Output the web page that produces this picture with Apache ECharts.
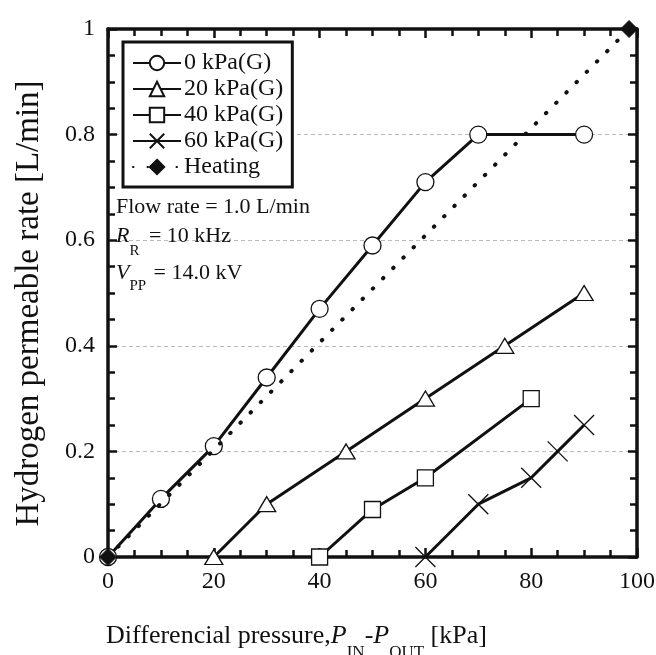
<!DOCTYPE html>
<html>
<head>
<meta charset="utf-8">
<script src="https://cdn.jsdelivr.net/npm/echarts@6/dist/echarts.min.js"></script>
<style>html,body{margin:0;padding:0;background:#fff}#c{width:656px;height:655px}</style>
</head>
<body>
<div id="c"></div>
<script>
// ---- data ----
const seriesNames = ['0 kPa(G)', '20 kPa(G)', '40 kPa(G)', '60 kPa(G)', 'Heating'];
const p0x = [0, 10, 20, 30, 40, 50, 60, 70, 90];
const p0y = [0, 0.11, 0.21, 0.34, 0.47, 0.59, 0.71, 0.80, 0.80];
const p20x = [20, 30, 45, 60, 75, 90];
const p20y = [0, 0.10, 0.20, 0.30, 0.40, 0.50];
const p40x = [40, 50, 60, 80];
const p40y = [0, 0.09, 0.15, 0.30];
const p60x = [60, 70, 80, 85, 90];
const p60y = [0, 0.10, 0.15, 0.20, 0.25];
const heatX = [0, 98.5];
const heatY = [0, 1];
const xTicks = [0, 20, 40, 60, 80, 100];
const yTicks = [0, 0.2, 0.4, 0.6, 0.8, 1];

const FONT = "'Liberation Serif','Times New Roman',serif";
const pair = (xs, ys) => xs.map((x, i) => [x, ys[i]]);

const crossPath = 'path://M0,0L10,10M10,0L0,10';
const lineBase = { color: '#111', width: 3 };

function axisCommon(show) {
  return {
    axisLine: { show: true, onZero: false, lineStyle: { color: '#111', width: 3.5 } },
    axisTick: { show: true, inside: true, length: 9, lineStyle: { color: '#111', width: 2.5 } },
    minorTick: { show: true, splitNumber: 4, length: 7, lineStyle: { color: '#111', width: 2.5 } },
    axisLabel: { show: show, color: '#111', fontSize: 24, fontFamily: FONT, margin: 13 },
  };
}

const option = {
  animation: false,
  backgroundColor: '#fff',
  grid: { left: 108, right: 19, top: 29, bottom: 98, containLabel: false, outerBoundsMode: 'none' },
  legend: {
    orient: 'vertical',
    left: 123, top: 42,
    padding: [9, 9, 8, 9],
    itemGap: 2,
    itemWidth: 48, itemHeight: 18,
    borderColor: '#111', borderWidth: 3,
    backgroundColor: '#fff',
    textStyle: { color: '#111', fontSize: 24, fontFamily: FONT, padding: [0, 0, 0, -2] },
    data: seriesNames
  },
  xAxis: [
    Object.assign({
      type: 'value', min: 0, max: 100, interval: 20, position: 'bottom',
      name: '{a|Differencial pressure,}{i|P}{s|IN}{a|-}{i|P}{s|OUT}{a| [kPa]}',
      nameLocation: 'middle', nameGap: 62,
      nameTextStyle: {
        padding: [0, 152, 0, 0],
        rich: {
          a: { fontSize: 26, fontFamily: FONT, color: '#111', lineHeight: 34, verticalAlign: 'middle' },
          i: { fontSize: 26, fontFamily: FONT, fontStyle: 'italic', color: '#111', lineHeight: 34, verticalAlign: 'middle' },
          s: { fontSize: 17, fontFamily: FONT, color: '#111', lineHeight: 34, verticalAlign: 'bottom', padding: [0, 0, -8, 0] }
        }
      },
      splitLine: { show: false }
    }, axisCommon(true)),
    Object.assign({
      type: 'value', min: 0, max: 100, interval: 20, position: 'top',
      splitLine: { show: false }
    }, axisCommon(false))
  ],
  yAxis: [
    Object.assign({
      type: 'value', min: 0, max: 1, interval: 0.2, position: 'left',
      name: 'Hydrogen permeable rate [L/min]',
      nameLocation: 'middle', nameGap: 62, nameRotate: 90,
      nameTextStyle: { fontSize: 33, fontFamily: FONT, color: '#111', padding: [0, 21, 0, 0] },
      splitLine: { show: true, lineStyle: { color: '#bbb', type: [4, 3], width: 1 } }
    }, axisCommon(true)),
    Object.assign({
      type: 'value', min: 0, max: 1, interval: 0.2, position: 'right',
      splitLine: { show: false }
    }, axisCommon(false))
  ],
  graphic: [
    {
      type: 'text', left: 116, top: 196, z: 10,
      style: {
        text: 'Flow rate = 1.0 L/min',
        fill: '#111', font: '22px ' + FONT
      }
    },
    {
      type: 'text', left: 116, top: 225, z: 10,
      style: {
        text: '{i|R}{s|R}{a| = 10 kHz}',
        rich: {
          a: { fontSize: 22, fontFamily: FONT, fill: '#111', lineHeight: 30, verticalAlign: 'middle' },
          i: { fontSize: 22, fontFamily: FONT, fontStyle: 'italic', fill: '#111', lineHeight: 30, verticalAlign: 'middle' },
          s: { fontSize: 15, fontFamily: FONT, fill: '#111', lineHeight: 30, verticalAlign: 'bottom', padding: [0, 4, -8, 0] }
        }
      }
    },
    {
      type: 'text', left: 116, top: 262, z: 10,
      style: {
        text: '{i|V}{s|PP}{a| = 14.0 kV}',
        rich: {
          a: { fontSize: 22, fontFamily: FONT, fill: '#111', lineHeight: 30, verticalAlign: 'middle' },
          i: { fontSize: 22, fontFamily: FONT, fontStyle: 'italic', fill: '#111', lineHeight: 30, verticalAlign: 'middle' },
          s: { fontSize: 15, fontFamily: FONT, fill: '#111', lineHeight: 30, verticalAlign: 'bottom', padding: [0, 2, -6, 0] }
        }
      }
    }
  ],
  series: [
    {
      name: seriesNames[0], type: 'line', data: pair(p0x, p0y),
      symbol: 'circle', symbolSize: 17, showAllSymbol: true,
      lineStyle: lineBase,
      itemStyle: { color: '#fff', borderColor: '#111', borderWidth: 1.3 }
    },
    {
      name: seriesNames[1], type: 'line', data: pair(p20x, p20y),
      symbol: 'triangle', symbolSize: [18, 15], showAllSymbol: true,
      lineStyle: lineBase,
      itemStyle: { color: '#fff', borderColor: '#111', borderWidth: 1.3 }
    },
    {
      name: seriesNames[2], type: 'line', data: pair(p40x, p40y),
      symbol: 'rect', symbolSize: 16, showAllSymbol: true,
      lineStyle: lineBase,
      itemStyle: { color: '#fff', borderColor: '#111', borderWidth: 1.3 }
    },
    {
      name: seriesNames[3], type: 'line', data: pair(p60x, p60y),
      symbol: crossPath, symbolSize: 20, showAllSymbol: true,
      lineStyle: lineBase,
      itemStyle: { color: 'rgba(0,0,0,0)', borderColor: '#111', borderWidth: 1.3 }
    },
    {
      name: seriesNames[4], type: 'line', data: pair(heatX, heatY),
      symbol: 'diamond', symbolSize: 17, showAllSymbol: true,
      lineStyle: { color: '#111', width: 4, type: [0.5, 14], cap: 'round' },
      itemStyle: { color: '#111', borderColor: '#111', borderWidth: 1 },
      z: 5
    }
  ]
};

const chart = echarts.init(document.getElementById('c'), null, { renderer: 'canvas' });
chart.setOption(option);
</script>
</body>
</html>
